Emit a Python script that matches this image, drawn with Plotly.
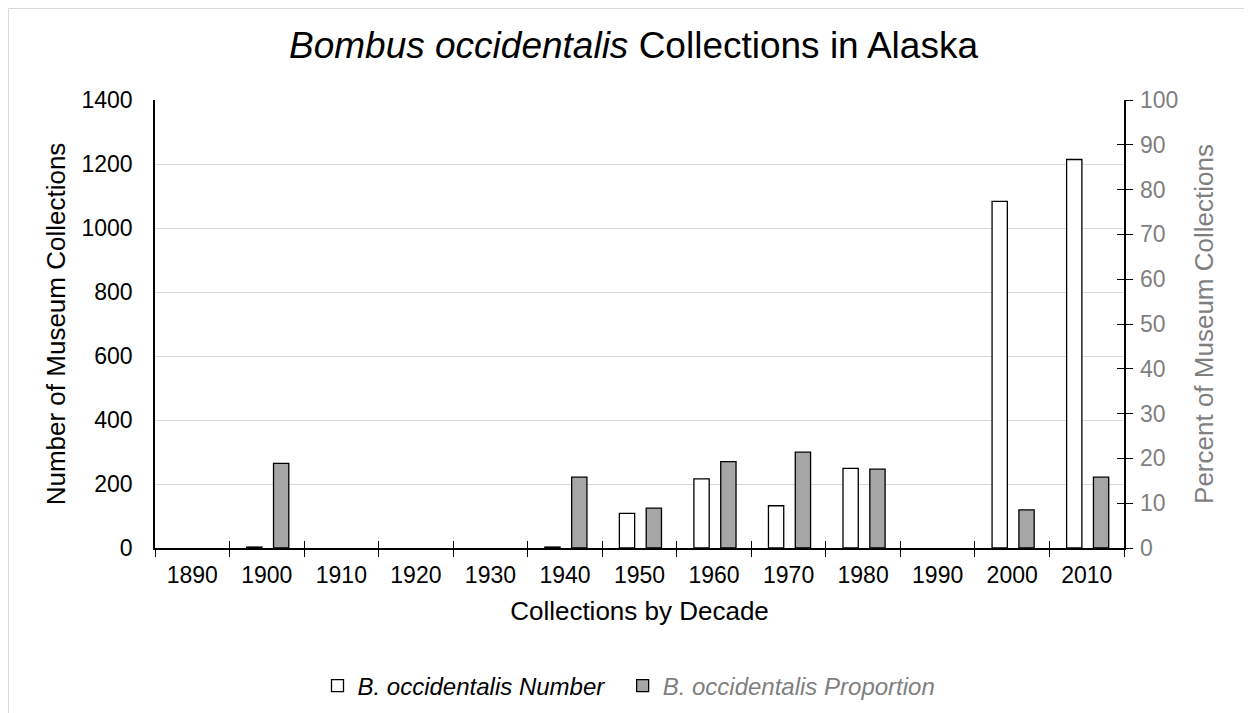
import plotly.graph_objects as go

decades = ["1890", "1900", "1910", "1920", "1930", "1940", "1950",
           "1960", "1970", "1980", "1990", "2000", "2010"]
number_collections = [0, 3, 0, 0, 0, 3, 108, 216, 132, 249, 0, 1083, 1214]
percent_collections = [0, 18.9, 0, 0, 0, 15.8, 8.9, 19.3, 21.4, 17.6, 0, 8.5, 15.8]

left_ticks = [0, 200, 400, 600, 800, 1000, 1200, 1400]
right_ticks = [0, 10, 20, 30, 40, 50, 60, 70, 80, 90, 100]

FONT = "Liberation Sans, Arial, sans-serif"
GRAY_TXT = "#7f7f7f"


def blank_zero(vals):
    # decades without collections have no bar drawn at all
    return [v if v else None for v in vals]


fig = go.Figure()

fig.add_trace(go.Bar(
    x=decades, y=blank_zero(number_collections),
    name="<i>B. occidentalis Number</i>\u00a0\u00a0",
    marker=dict(color="white", line=dict(color="black", width=1.3)),
    width=0.205, offset=-0.27,
    xaxis="x", yaxis="y",
))
fig.add_trace(go.Bar(
    x=decades, y=blank_zero(percent_collections),
    name="<i><span style='color:#7f7f7f'>B. occidentalis Proportion</span></i>",
    marker=dict(color="#a6a6a6", line=dict(color="black", width=1.3)),
    width=0.205, offset=0.09,
    xaxis="x", yaxis="y2",
))
# helper (empty) traces so that the overlay axes providing the crossing ticks are drawn
fig.add_trace(go.Scatter(x=decades, y=[None] * len(decades), xaxis="x2", yaxis="y",
                         showlegend=False, hoverinfo="skip", mode="markers"))
fig.add_trace(go.Scatter(x=decades, y=[None] * len(decades), xaxis="x", yaxis="y3",
                         showlegend=False, hoverinfo="skip", mode="markers"))

# page body has an 8px margin, so the figure is 8px smaller than the window
OFF = 8
W, H = 1252 - OFF, 713 - OFF
ML, MR, MT, MB = 155 - OFF, 128, 100 - OFF, 165
PW, PH = W - ML - MR, H - MT - MB


def px_y(py):
    """page pixel y -> paper y"""
    return ((H - MB) - (py - OFF)) / PH


def px_x(px):
    """page pixel x -> paper x"""
    return ((px - OFF) - ML) / PW


fig.update_layout(
    width=W, height=H, autosize=False,
    margin=dict(l=ML, r=MR, t=MT, b=MB, pad=0, autoexpand=False),
    paper_bgcolor="white", plot_bgcolor="white",
    font=dict(family=FONT, size=23, color="black"),
    title=dict(
        text="<i>Bombus occidentalis</i> Collections in Alaska",
        font=dict(family=FONT, size=37, color="black"),
        xref="container", x=(633.5 - OFF) / W, xanchor="center",
        yref="container", y=1 - (45 - OFF) / H, yanchor="middle",
    ),
    barmode="overlay",
    showlegend=True,
    legend=dict(
        orientation="h", x=px_x(317.5), xanchor="left",
        y=px_y(686), yanchor="middle",
        font=dict(family=FONT, size=24, color="black"),
        bgcolor="rgba(0,0,0,0)", itemwidth=30, traceorder="normal",
    ),
    xaxis=dict(
        type="category", categoryorder="array", categoryarray=decades,
        range=[-0.5, len(decades) - 0.5],
        tickson="boundaries", ticks="outside", ticklen=7, tickwidth=1.3, tickcolor="black",
        showline=True, linecolor="black", linewidth=1.6,
        showgrid=False, zeroline=False,
        tickfont=dict(size=23, color="black"),
        ticklabelstandoff=6,
        title=dict(text="Collections by Decade", font=dict(size=26, color="black"), standoff=14),
        anchor="y", automargin=False,
    ),
    xaxis2=dict(
        type="category", categoryorder="array", categoryarray=decades,
        range=[-0.5, len(decades) - 0.5], overlaying="x", anchor="y", side="bottom",
        tickson="boundaries", ticks="inside", ticklen=7, tickwidth=1.3, tickcolor="black",
        showticklabels=False, showline=False, showgrid=False, zeroline=False,
    ),
    yaxis=dict(
        range=[0, 1400], tickvals=left_ticks,
        showgrid=True, gridcolor="#d9d9d9", gridwidth=1.3,
        showline=True, linecolor="black", linewidth=1.6,
        ticks="", zeroline=False,
        tickfont=dict(size=23, color="black"),
        ticklabelstandoff=16,
        title=dict(text="Number of Museum Collections", font=dict(size=26, color="black"), standoff=8),
        anchor="x", automargin=False,
    ),
    yaxis2=dict(
        range=[0, 100], tickvals=right_ticks, overlaying="y", side="right", anchor="x",
        showgrid=False, zeroline=False,
        showline=True, linecolor="black", linewidth=1.6,
        ticks="outside", ticklen=7.5, tickwidth=1.3, tickcolor="black",
        tickfont=dict(size=23, color=GRAY_TXT),
        ticklabelstandoff=2,
        title=dict(text="Percent of Museum Collections", font=dict(size=26, color=GRAY_TXT), standoff=18),
        automargin=False,
    ),
    yaxis3=dict(
        range=[0, 100], tickvals=right_ticks, overlaying="y", side="right", anchor="x",
        showgrid=False, zeroline=False, showline=False,
        ticks="inside", ticklen=7.5, tickwidth=1.3, tickcolor="black",
        showticklabels=False,
    ),
    shapes=[dict(
        type="rect", xref="paper", yref="paper", layer="below",
        x0=px_x(OFF + 0.5), x1=px_x(1252 + 20),
        y0=px_y(713 + 20), y1=px_y(OFF + 0.5),
        line=dict(color="#d9d9d9", width=1), fillcolor="rgba(0,0,0,0)",
    )],
)

fig.write_html("out.html")
